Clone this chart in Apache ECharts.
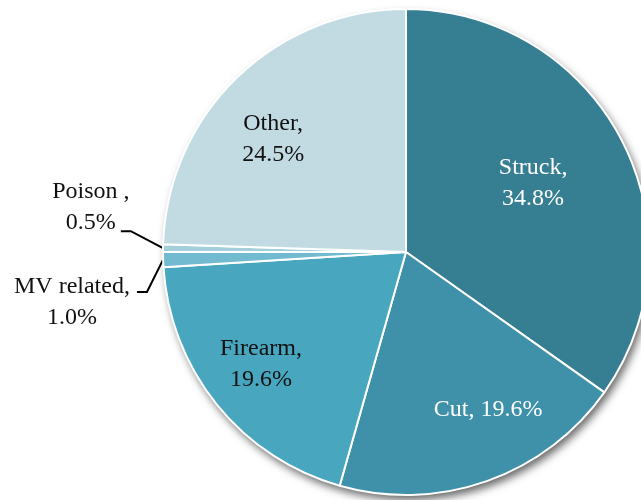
<!DOCTYPE html>
<html><head><meta charset="utf-8">
<script src="https://cdn.jsdelivr.net/npm/echarts@6/dist/echarts.min.js"></script>
<style>html,body{margin:0;padding:0;background:#fff}#c{width:641px;height:500px}</style>
</head><body><div id="c"></div>
<script>
// ---- data ----
const categories = ['Struck', 'Cut', 'Firearm', 'MV related', 'Poison ', 'Other'];
const values = [34.8, 19.6, 19.6, 1.0, 0.5, 24.5];

// ---- style / layout ----
const colors = ['#367e91', '#3f91aa', '#48a6bf', '#72bad0', '#a3cfdb', '#c2dbe3'];
const labelColors = ['#ffffff', '#ffffff', '#111111', '#111111', '#111111', '#111111'];
const singleLine = [false, true, false, false, false, false];
const outside = [false, false, false, true, true, false];
// [angle tweak in degrees, radial factor] for label centres
const labelPolar = [[-1.1, 0.595], [-8, 0.733], [1.2, 0.754], [-6.7, 1.39], [7.2, 1.31], [-5.5, 0.718]];
const lineAnchor = [null, null, null, [65, -10], [30, 24], null];
const CX = 406, CY = 252, R = 243;
const FONT = "'Palatino Linotype', 'Book Antiqua', Palatino, 'Liberation Serif', serif";

const total = values.reduce((a, b) => a + b, 0);
const mids = []; let acc = 0;
values.forEach(v => { mids.push((acc + v / 2) / total * 360); acc += v; });
function polar(deg, r) { const a = deg * Math.PI / 180; return [CX + r * Math.sin(a), CY - r * Math.cos(a)]; }

const chart = echarts.init(document.getElementById('c'), null, {renderer: 'canvas'});
chart.setOption({
  animation: false,
  backgroundColor: '#ffffff',
  series: [
    {
      type: 'pie', silent: true, z: 1, center: [CX, CY], radius: R,
      label: {show: false}, labelLine: {show: false},
      data: [{value: total, itemStyle: {color: '#ffffff', shadowBlur: 9, shadowOffsetX: 3, shadowOffsetY: 5, shadowColor: 'rgba(0,0,0,0.6)'}}]
    },
    {
      type: 'pie', z: 2, center: [CX, CY], radius: R, startAngle: 90, clockwise: true,
      avoidLabelOverlap: false,
      itemStyle: {borderColor: '#ffffff', borderWidth: 2},
      label: {
        fontFamily: FONT, fontSize: 24, lineHeight: 31,
        formatter: p => p.name + ',' + (singleLine[p.dataIndex] ? ' ' : '\n') + values[p.dataIndex].toFixed(1) + '%'
      },
      labelLine: {lineStyle: {color: '#000000', width: 2}},
      emphasis: {disabled: true},
      labelLayout: function (p) {
        const i = p.dataIndex;
        const lp = labelPolar[i];
        const pos = polar(mids[i] + lp[0], R * lp[1]);
        const res = {x: pos[0], y: pos[1], align: 'center', verticalAlign: 'middle'};
        if (lineAnchor[i]) {
          const e = polar(mids[i], R);
          const p2 = [pos[0] + lineAnchor[i][0], pos[1] + lineAnchor[i][1]];
          const p1 = [p2[0] + 10, p2[1]];
          res.labelLinePoints = [e, p1, p2];
        }
        return res;
      },
      data: categories.map((n, i) => ({
        name: n, value: values[i],
        itemStyle: {color: colors[i]},
        label: {position: outside[i] ? 'outside' : 'inside', color: labelColors[i]},
        labelLine: {show: outside[i]}
      }))
    }
  ]
});
</script></body></html>
